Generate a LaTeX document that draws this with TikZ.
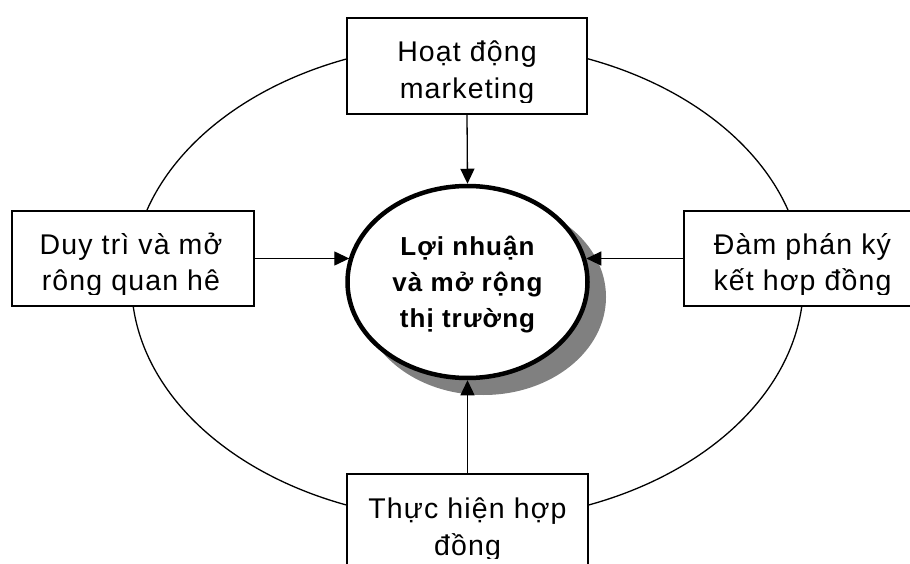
\documentclass[tikz,border=0pt]{standalone}
\usepackage{fontspec}
\setmainfont{Liberation Sans}[LetterSpace=4]
\usetikzlibrary{arrows.meta,shapes.geometric}
\definecolor{shadowgray}{RGB}{128,128,128}
\begin{document}
\begin{tikzpicture}[x=1pt,y=-1pt,
  box/.style={draw, line width=1.4pt, fill=white, rectangle, inner sep=0pt},
  boxtext/.style={anchor=base, inner sep=0pt, font=\fontsize{28.5}{34}\selectfont},
  hubtext/.style={anchor=base, inner sep=0pt, font=\fontsize{26}{32}\selectfont\bfseries},
  arr/.style={line width=1.3pt, -{Triangle[length=15pt,width=14pt]}}]
\useasboundingbox (0,0) rectangle (910,564);
\fill[white] (0,0) rectangle (910,564);

% the cycle ring joining the four activities
\node[draw, ellipse, line width=1.3pt, minimum width=672pt, minimum height=478pt, inner sep=0pt] (ring) at (467.5,282) {};

% activity boxes
\node[box, minimum width=240pt, minimum height=96pt] (mkt) at (467,66) {};
\node[box, minimum width=242pt, minimum height=95pt] (rel) at (133,258.5) {};
\node[box, minimum width=240pt, minimum height=95pt] (neg) at (804,258.5) {};
\node[box, minimum width=241pt, minimum height=96pt] (exe) at (467.5,522) {};

% central goal with its shadow
\fill[shadowgray] (483.5,297) ellipse [x radius=122.5pt, y radius=98pt];
\node[draw, ellipse, line width=4.5pt, fill=white, minimum width=240pt, minimum height=192pt, inner sep=0pt] (hub) at (467.5,282) {};
\node[hubtext] (hub1) at (467.5,255) {Lợi nhuận};
\node[hubtext] (hub2) at (467.5,291) {và mở rộng};
\node[hubtext] (hub3) at (467.5,327) {thị trường};

% box labels, cut off by the inner margin of each box
\begin{scope}
\clip (mkt.north west) rectangle ([yshift=12.5pt]mkt.south east);
\node[boxtext] (mkt1) at (467,62) {Hoạt động};
\node[boxtext] (mkt2) at (467,99) {marketing};
\end{scope}
\begin{scope}
\clip (rel.north west) rectangle ([yshift=12.5pt]rel.south east);
\node[boxtext] (rel1) at (131,254) {Duy trì và mở};
\node[boxtext] (rel2) at (131,290.5) {rông quan hê};
\end{scope}
\begin{scope}
\clip (neg.north west) rectangle ([yshift=12.5pt]neg.south east);
\node[boxtext] (neg1) at (802.5,254) {Đàm phán ký};
\node[boxtext] (neg2) at (802.5,290.5) {kết hơp đồng};
\end{scope}
\begin{scope}
\clip (exe.north west) rectangle ([yshift=12.5pt]exe.south east);
\node[boxtext] (exe1) at (467.5,518) {Thực hiện hợp};
\node[boxtext] (exe2) at (467.5,555) {đồng};
\end{scope}

% arrows into the goal
\draw[arr] (mkt.south) -- (hub.north);
\draw[arr] (exe.north) -- (hub.south);
\draw[arr] (rel.east) -- (rel.east -| hub.168.5);
\draw[arr] (neg.west) -- (neg.west -| hub.11.5);
\end{tikzpicture}
\end{document}
